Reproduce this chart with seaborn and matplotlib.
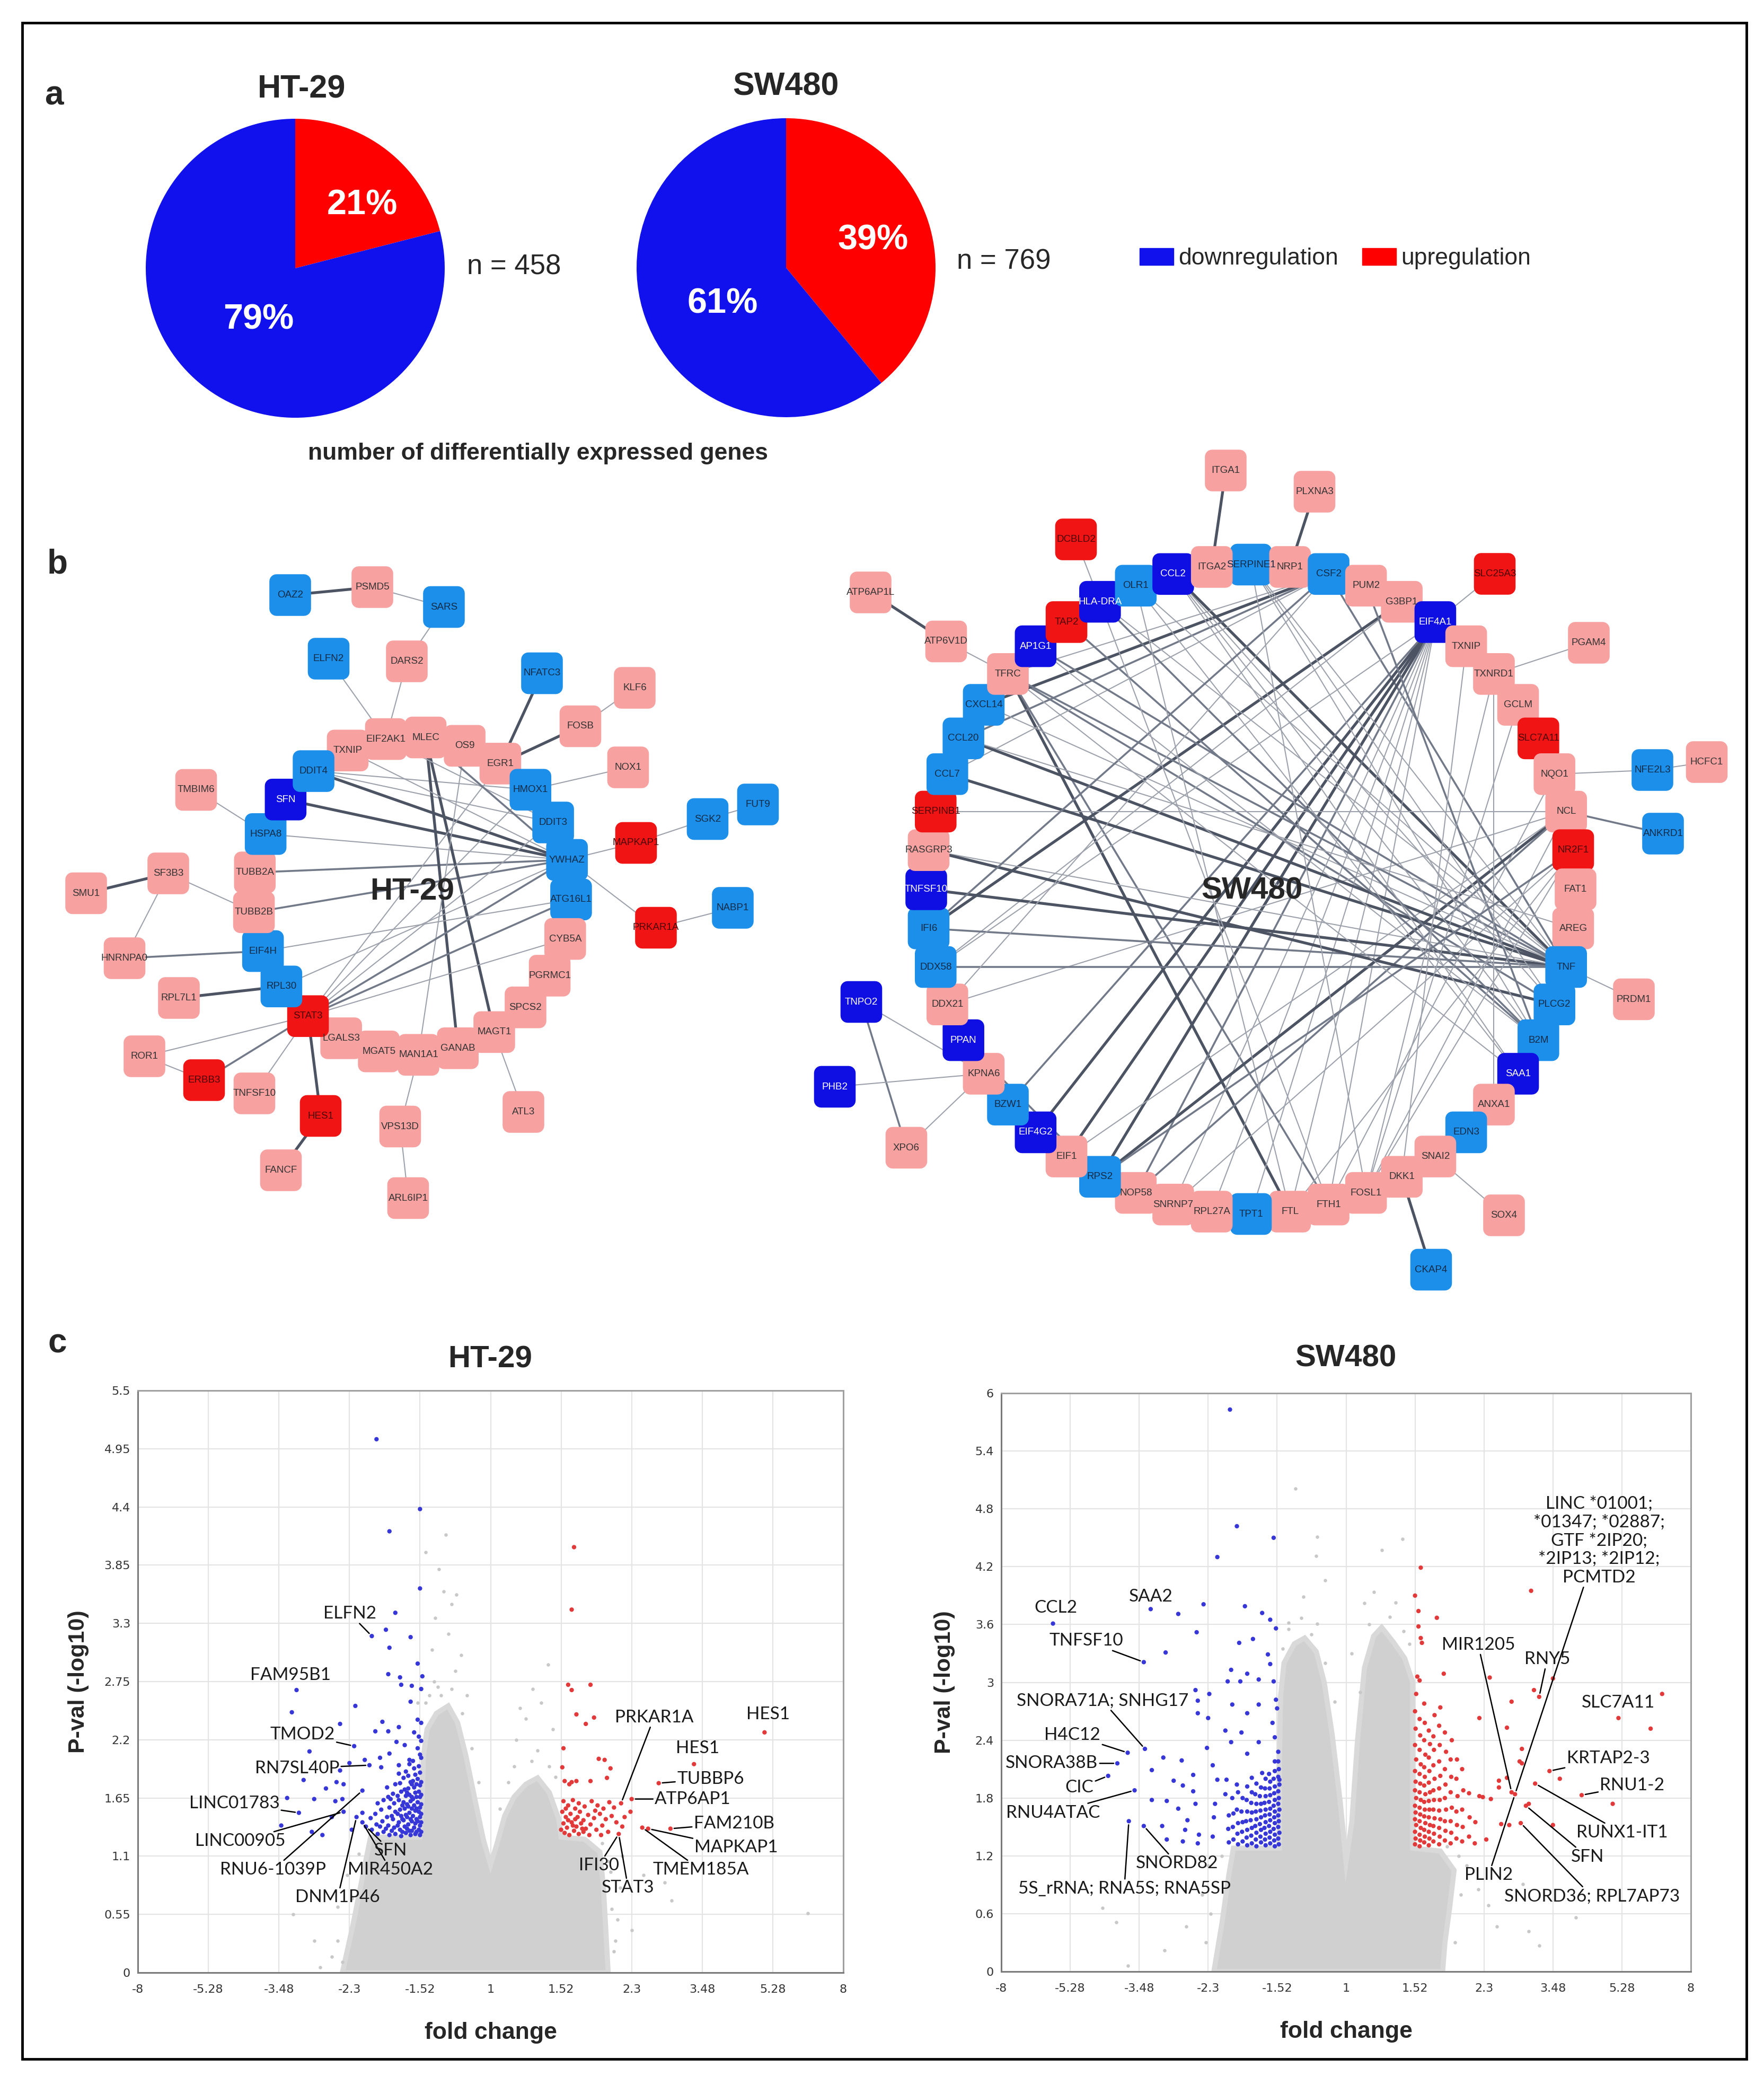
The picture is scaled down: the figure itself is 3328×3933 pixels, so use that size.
"""
Differential expression figure: (a) up/down pie charts, (b) interaction
networks, (c) volcano plots for HT-29 and SW480.
"""

import numpy as np
import pandas as pd
import seaborn as sns
import matplotlib.pyplot as plt
from matplotlib.path import Path
from matplotlib.patches import Rectangle, Patch

# ---------------------------------------------------------------- panel a
pie_cells = ["HT-29", "SW480"]
pie_up_pct = [21, 39]
pie_down_pct = [79, 61]
pie_n = [458, 769]

# ---------------------------------------------------------------- panel b
# HT-29 network: ring nodes in circular-layout order, outer nodes with layout coords
ht_ring = ["TXNIP", "EIF2AK1", "MLEC", "OS9", "EGR1", "HMOX1", "DDIT3", "YWHAZ",
           "ATG16L1", "CYB5A", "PGRMC1", "SPCS2", "MAGT1", "GANAB", "MAN1A1", "MGAT5",
           "LGALS3", "STAT3", "RPL30", "EIF4H", "TUBB2B", "TUBB2A", "HSPA8", "SFN", "DDIT4"]
ht_outer_names = ["OAZ2", "PSMD5", "SARS", "ELFN2", "DARS2", "NFATC3", "KLF6", "FOSB",
                  "NOX1", "TMBIM6", "SF3B3", "SMU1", "HNRNPA0", "RPL7L1", "ROR1", "ERBB3",
                  "TNFSF10", "HES1", "FANCF", "VPS13D", "ARL6IP1", "ATL3", "MAPKAP1",
                  "PRKAR1A", "SGK2", "FUT9", "NABP1"]
ht_outer_x = [219, 281, 335, 248, 307, 409, 479, 438, 474, 148, 127, 65, 94, 135, 109, 154,
              192, 242, 212, 302, 308, 395, 480, 495, 534, 572, 553]
ht_outer_y = [449, 443, 458, 497, 499, 508, 519, 548, 579, 596, 659, 674, 723, 753, 797, 815,
              825, 842, 883, 850, 904, 839, 636, 700, 618, 607, 685]
ht_up_strong = ["MAPKAP1", "PRKAR1A", "STAT3", "ERBB3", "HES1"]
ht_down_strong = ["SFN"]
ht_down = ["OAZ2", "SARS", "ELFN2", "NFATC3", "DDIT4", "HMOX1", "DDIT3", "HSPA8", "YWHAZ",
           "ATG16L1", "EIF4H", "RPL30", "SGK2", "FUT9", "NABP1"]
ht_edges = [
    ("OAZ2", "PSMD5", 3), ("PSMD5", "SARS", 1), ("SARS", "DARS2", 1), ("DARS2", "EIF2AK1", 1),
    ("ELFN2", "EIF2AK1", 1), ("NFATC3", "EGR1", 3), ("FOSB", "EGR1", 3), ("KLF6", "FOSB", 1),
    ("NOX1", "HMOX1", 1), ("TMBIM6", "HSPA8", 1), ("SF3B3", "SMU1", 3), ("SF3B3", "TUBB2B", 1),
    ("SF3B3", "HNRNPA0", 1), ("HNRNPA0", "EIF4H", 2), ("RPL7L1", "RPL30", 3), ("ROR1", "ERBB3", 1),
    ("ROR1", "STAT3", 1), ("ERBB3", "STAT3", 2), ("TNFSF10", "STAT3", 1), ("STAT3", "HES1", 3),
    ("HES1", "FANCF", 3), ("VPS13D", "MAN1A1", 1), ("VPS13D", "ARL6IP1", 1), ("ATL3", "MAGT1", 1),
    ("MAPKAP1", "SGK2", 1), ("SGK2", "FUT9", 1), ("MAPKAP1", "YWHAZ", 1), ("PRKAR1A", "NABP1", 1),
    ("PRKAR1A", "YWHAZ", 1), ("DDIT4", "YWHAZ", 3), ("SFN", "YWHAZ", 3), ("HSPA8", "YWHAZ", 1),
    ("TUBB2A", "YWHAZ", 2), ("TUBB2B", "YWHAZ", 2), ("DDIT4", "HMOX1", 1), ("DDIT4", "DDIT3", 1),
    ("TXNIP", "SFN", 1), ("MLEC", "GANAB", 3), ("MLEC", "MAGT1", 3), ("OS9", "MAN1A1", 1),
    ("EGR1", "STAT3", 1), ("STAT3", "YWHAZ", 2), ("STAT3", "HMOX1", 1), ("STAT3", "ATG16L1", 2),
    ("STAT3", "DDIT3", 1), ("STAT3", "CYB5A", 1), ("RPL30", "YWHAZ", 1), ("EIF4H", "ATG16L1", 1),
    ("MLEC", "HMOX1", 1), ("EIF2AK1", "DDIT3", 1), ("MLEC", "YWHAZ", 2), ("TXNIP", "YWHAZ", 1),
]

# SW480 network
sw_ring = ["SERPINE1", "NRP1", "CSF2", "PUM2", "G3BP1", "EIF4A1", "TXNIP", "TXNRD1", "GCLM",
           "SLC7A11", "NQO1", "NCL", "NR2F1", "FAT1", "AREG", "TNF", "PLCG2", "B2M", "SAA1",
           "ANXA1", "EDN3", "SNAI2", "DKK1", "FOSL1", "FTH1", "FTL", "TPT1", "RPL27A", "SNRNP7",
           "NOP58", "RPS2", "EIF1", "EIF4G2", "BZW1", "KPNA6", "PPAN", "DDX21", "DDX58", "IFI6",
           "TNFSF10", "RASGRP3", "SERPINB1", "CCL7", "CCL20", "CXCL14", "TFRC", "AP1G1", "TAP2",
           "HLA-DRA", "OLR1", "CCL2", "ITGA2"]
sw_outer_names = ["ITGA1", "PLXNA3", "DCBLD2", "SLC25A3", "ATP6AP1L", "ATP6V1D", "PGAM4",
                  "HCFC1", "NFE2L3", "ANKRD1", "PRDM1", "TNPO2", "PHB2", "XPO6", "SOX4", "CKAP4"]
sw_outer_x = [925, 992, 812, 1128, 657, 714, 1199, 1288, 1247, 1255, 1233, 650, 630, 684, 1135, 1080]
sw_outer_y = [355, 371, 407, 433, 447, 484, 485, 575, 581, 629, 754, 756, 820, 866, 917, 958]
sw_up_strong = ["DCBLD2", "SLC25A3", "TAP2", "SLC7A11", "SERPINB1", "NR2F1"]
sw_down_strong = ["CCL2", "HLA-DRA", "AP1G1", "EIF4A1", "TNFSF10", "PPAN", "EIF4G2", "SAA1",
                  "TNPO2", "PHB2"]
sw_down = ["OLR1", "SERPINE1", "CSF2", "CXCL14", "CCL20", "CCL7", "IFI6", "DDX58", "BZW1",
           "RPS2", "TPT1", "EDN3", "B2M", "PLCG2", "TNF", "NFE2L3", "ANKRD1", "CKAP4"]
sw_edges = [
    ("ITGA1", "ITGA2", 3), ("PLXNA3", "NRP1", 3), ("DCBLD2", "HLA-DRA", 1), ("SLC25A3", "EIF4A1", 1),
    ("ATP6AP1L", "ATP6V1D", 3), ("ATP6V1D", "TFRC", 1), ("PGAM4", "TXNRD1", 1), ("HCFC1", "NFE2L3", 1),
    ("NFE2L3", "NQO1", 1), ("ANKRD1", "NCL", 2), ("PRDM1", "TNF", 1), ("TNPO2", "KPNA6", 1),
    ("TNPO2", "XPO6", 2), ("PHB2", "KPNA6", 1), ("XPO6", "KPNA6", 1), ("SOX4", "SNAI2", 1),
    ("CKAP4", "DKK1", 3), ("CCL2", "TNF", 3), ("TFRC", "FTL", 3), ("TFRC", "FTH1", 2),
    ("TFRC", "PLCG2", 2), ("CSF2", "CXCL14", 3), ("CSF2", "CCL20", 2), ("CSF2", "TFRC", 1),
    ("CSF2", "CCL7", 1), ("CSF2", "TNF", 2), ("G3BP1", "IFI6", 3), ("G3BP1", "DDX58", 1),
    ("EIF4A1", "EIF1", 3), ("EIF4A1", "EIF4G2", 3), ("EIF4A1", "RPS2", 3), ("EIF4A1", "NOP58", 2),
    ("EIF4A1", "BZW1", 2), ("EIF4A1", "RPL27A", 1), ("EIF4A1", "TPT1", 1), ("EIF4A1", "FTL", 1),
    ("EIF4A1", "FTH1", 1), ("EIF4A1", "SNRNP7", 1), ("NCL", "RPS2", 3), ("NCL", "NOP58", 2),
    ("NR2F1", "SNRNP7", 1), ("NCL", "EIF1", 1), ("NCL", "DDX21", 1), ("SERPINB1", "NCL", 1),
    ("TNF", "CCL20", 3), ("TNF", "CCL7", 3), ("TNF", "TNFSF10", 3), ("TNF", "RASGRP3", 1),
    ("TNF", "DDX58", 2), ("TNF", "IFI6", 2), ("TNF", "CXCL14", 1), ("TNF", "TFRC", 2),
    ("TNF", "HLA-DRA", 1), ("TNF", "SERPINE1", 1), ("TNF", "OLR1", 1), ("TNF", "AP1G1", 2),
    ("RASGRP3", "PLCG2", 3), ("B2M", "TAP2", 2), ("B2M", "HLA-DRA", 2), ("B2M", "CCL2", 1),
    ("PUM2", "B2M", 2), ("SERPINE1", "PLCG2", 1), ("SERPINE1", "B2M", 1), ("FOSL1", "NCL", 1),
    ("FOSL1", "TXNRD1", 1), ("FOSL1", "GCLM", 1), ("FTH1", "NQO1", 1), ("FOSL1", "NR2F1", 1),
    ("DKK1", "TXNIP", 1), ("ANXA1", "TXNRD1", 1), ("PPAN", "RPS2", 2), ("KPNA6", "EIF4G2", 1),
    ("SAA1", "CCL2", 1), ("SAA1", "OLR1", 1), ("CCL20", "AREG", 1), ("DDX21", "CSF2", 1),
    ("IFI6", "CSF2", 2), ("TFRC", "SAA1", 1), ("OLR1", "FTL", 1), ("HLA-DRA", "FTH1", 1),
    ("TXNIP", "TXNRD1", 2), ("NR2F1", "FTL", 1), ("NR2F1", "RPS2", 2), ("SERPINE1", "FOSL1", 1),
    ("CCL2", "PLCG2", 1), ("AP1G1", "B2M", 1), ("DDX58", "EIF4A1", 1),
]

# ---------------------------------------------------------------- panel c
# x = log2 fold change (axis labelled in fold change), y = -log10 p
fc_ticks = [-3.0, -2.4, -1.8, -1.2, -0.6, 0.0, 0.6, 1.2, 1.8, 2.4, 3.0]
fc_tick_labels = ["-8", "-5.28", "-3.48", "-2.3", "-1.52", "1", "1.52", "2.3", "3.48", "5.28", "8"]
ht_p_ticks = [0, 0.55, 1.1, 1.65, 2.2, 2.75, 3.3, 3.85, 4.4, 4.95, 5.5]
ht_p_tick_labels = ["0", "0.55", "1.1", "1.65", "2.2", "2.75", "3.3", "3.85", "4.4", "4.95", "5.5"]
sw_p_ticks = [0, 0.6, 1.2, 1.8, 2.4, 3.0, 3.6, 4.2, 4.8, 5.4, 6.0]
sw_p_tick_labels = ["0", "0.6", "1.2", "1.8", "2.4", "3", "3.6", "4.2", "4.8", "5.4", "6"]

ht_down_points = [
    (-0.97, 5.04), (-0.60, 4.38), (-0.86, 4.17), (-0.60, 3.63), (-0.81, 3.40), (-1.01, 3.18),
    (-0.68, 3.17), (-0.89, 3.24), (-0.86, 3.07), (-0.62, 2.92), (-0.87, 2.82), (-0.77, 2.79),
    (-0.58, 2.80), (-0.76, 2.72), (-0.67, 2.71), (-0.68, 2.56), (-0.59, 2.68), (-1.15, 2.52),
    (-1.28, 2.35), (-1.16, 2.14), (-0.92, 2.37), (-0.98, 2.28), (-0.87, 2.28), (-0.78, 2.32),
    (-0.62, 2.39), (-0.59, 2.36), (-0.65, 2.27), (-0.61, 2.23), (-0.59, 2.19), (-1.65, 2.67),
    (-1.69, 2.46), (-1.07, 2.01), (-1.20, 1.98), (-1.28, 1.91), (-0.94, 2.03), (-0.80, 2.18),
    (-0.73, 2.15), (-0.86, 2.07), (-1.54, 2.09), (-1.59, 1.82), (-1.31, 1.80), (-1.40, 1.74),
    (-1.25, 1.78), (-0.93, 1.94), (-0.78, 1.96), (-0.69, 2.01), (-0.59, 2.03), (-1.73, 1.65),
    (-1.78, 1.39), (-1.63, 1.51), (-1.50, 1.64), (-1.35, 1.47), (-1.52, 1.33), (-1.43, 1.30),
    (-1.26, 1.64), (-1.25, 1.52), (-1.09, 1.51), (-0.85, 1.64), (-1.09, 1.72), (-1.14, 1.47),
    (-1.09, 1.42), (-1.06, 1.38), (-1.03, 1.96), (-1.18, 1.35), (-1.32, 1.62),
    (-0.60, 1.30), (-0.61, 1.35), (-0.60, 1.39), (-0.62, 1.43), (-0.60, 1.47), (-0.61, 1.52),
    (-0.60, 1.56), (-0.62, 1.61), (-0.60, 1.66), (-0.61, 1.71), (-0.60, 1.77), (-0.62, 1.83),
    (-0.60, 1.89), (-0.61, 1.95), (-0.60, 2.06), (-0.62, 2.12), (-0.64, 1.31), (-0.65, 1.37),
    (-0.64, 1.41), (-0.66, 1.48), (-0.64, 1.53), (-0.65, 1.58), (-0.66, 1.64), (-0.64, 1.70),
    (-0.65, 1.75), (-0.66, 1.81), (-0.64, 1.87), (-0.65, 1.93), (-0.66, 2.00), (-0.68, 1.30),
    (-0.69, 1.34), (-0.70, 1.40), (-0.68, 1.45), (-0.69, 1.51), (-0.70, 1.57), (-0.68, 1.62),
    (-0.69, 1.68), (-0.70, 1.74), (-0.68, 1.80), (-0.70, 1.86), (-0.69, 1.97), (-0.72, 1.32),
    (-0.73, 1.38), (-0.74, 1.44), (-0.72, 1.49), (-0.73, 1.55), (-0.74, 1.61), (-0.72, 1.67),
    (-0.73, 1.73), (-0.74, 1.84), (-0.72, 1.90), (-0.76, 1.29), (-0.77, 1.35), (-0.78, 1.42),
    (-0.76, 1.48), (-0.77, 1.54), (-0.78, 1.63), (-0.76, 1.71), (-0.77, 1.79), (-0.78, 1.88),
    (-0.81, 1.31), (-0.82, 1.37), (-0.83, 1.45), (-0.81, 1.52), (-0.82, 1.60), (-0.83, 1.69),
    (-0.81, 1.78), (-0.86, 1.30), (-0.87, 1.39), (-0.88, 1.47), (-0.86, 1.56), (-0.87, 1.66),
    (-0.88, 1.75), (-0.91, 1.33), (-0.92, 1.43), (-0.93, 1.54), (-0.91, 1.63), (-0.96, 1.31),
    (-0.97, 1.40), (-0.98, 1.50), (-0.96, 1.60), (-1.01, 1.35), (-1.02, 1.46), (-0.59, 1.33),
    (-0.59, 1.42), (-0.59, 1.50), (-0.59, 1.59), (-0.59, 1.68), (-0.59, 1.80), (-0.63, 1.33),
    (-0.63, 1.45), (-0.63, 1.55), (-0.63, 1.66), (-0.63, 1.78), (-0.67, 1.34), (-0.67, 1.43),
    (-0.67, 1.55), (-0.67, 1.66), (-0.67, 1.78), (-0.71, 1.36), (-0.71, 1.47), (-0.71, 1.59),
    (-0.71, 1.70), (-0.75, 1.33), (-0.75, 1.45), (-0.75, 1.58), (-0.79, 1.39), (-0.79, 1.50),
    (-0.79, 1.67), (-0.84, 1.34), (-0.84, 1.48), (-0.89, 1.36), (-0.94, 1.38),
]
ht_up_points = [
    (0.71, 4.02), (0.69, 3.43), (0.66, 2.72), (0.69, 2.67), (0.85, 2.72), (0.73, 2.44),
    (0.88, 2.41), (0.81, 2.35), (2.33, 2.27), (1.73, 1.97), (1.43, 1.79), (1.20, 1.64),
    (1.11, 1.60), (1.53, 1.36), (1.34, 1.36), (1.29, 1.37), (1.09, 1.31), (1.19, 1.52),
    (1.14, 1.47), (0.62, 2.12), (0.61, 1.94), (0.92, 2.02), (0.97, 2.01), (1.02, 1.93),
    (0.99, 1.84), (0.85, 1.81), (0.63, 1.81), (0.69, 1.80), (0.73, 1.81), (0.67, 1.78),
    (0.62, 1.62), (0.66, 1.58), (0.70, 1.63), (0.75, 1.60), (0.80, 1.57), (0.86, 1.62),
    (0.91, 1.58), (0.96, 1.55), (1.01, 1.61), (1.05, 1.56), (0.61, 1.52), (0.64, 1.47),
    (0.68, 1.50), (0.72, 1.45), (0.76, 1.52), (0.79, 1.44), (0.83, 1.49), (0.88, 1.46),
    (0.93, 1.50), (0.98, 1.45), (1.03, 1.48), (0.62, 1.41), (0.65, 1.37), (0.69, 1.42),
    (0.73, 1.38), (0.77, 1.41), (0.81, 1.36), (0.85, 1.40), (0.90, 1.35), (0.95, 1.39),
    (1.00, 1.33), (0.63, 1.32), (0.67, 1.30), (0.71, 1.34), (0.75, 1.31), (0.79, 1.33),
    (0.84, 1.30), (0.60, 1.35), (0.66, 1.44), (0.70, 1.39), (0.74, 1.47), (0.78, 1.36),
    (0.72, 1.55), (0.64, 1.55), (0.89, 1.53), (1.07, 1.42), (1.12, 1.38), (0.94, 1.30),
]
ht_grey_outline = [
    (-1.26, 0.0), (-1.17, 0.45), (-1.09, 0.90), (-1.02, 1.28), (-0.60, 1.28), (-0.58, 1.70),
    (-0.57, 2.05), (-0.54, 2.30), (-0.46, 2.45), (-0.36, 2.52), (-0.28, 2.36), (-0.21, 2.05),
    (-0.13, 1.62), (-0.06, 1.25), (0.0, 1.02), (0.05, 1.20), (0.12, 1.48), (0.20, 1.66),
    (0.30, 1.78), (0.40, 1.84), (0.50, 1.70), (0.58, 1.45), (0.60, 1.28), (0.80, 1.26),
    (0.93, 1.14), (0.96, 0.80), (0.98, 0.40), (1.00, 0.0),
]
ht_grey_points = [
    (-0.38, 4.14), (-0.55, 3.97), (-0.44, 3.81), (-0.40, 3.60), (-0.29, 3.57), (-0.33, 3.48),
    (-0.47, 3.35), (-0.50, 3.05), (-0.36, 3.20), (-0.25, 3.00), (-0.30, 2.85), (-0.20, 2.62),
    (-0.45, 2.70), (0.49, 2.91), (0.36, 2.68), (0.43, 2.55), (0.30, 2.40), (0.22, 2.20),
    (0.53, 2.30), (0.40, 2.10), (0.25, 2.50), (1.54, 0.68), (1.48, 0.85), (1.30, 0.92),
    (1.02, 0.95), (1.12, 1.10), (2.70, 0.56), (-1.68, 0.55), (-1.50, 0.30), (-1.35, 0.15),
    (-1.30, 0.62), (-1.22, 0.92), (-1.45, 0.05), (1.20, 0.40), (1.05, 0.20), (-0.62, 2.55),
    (-0.52, 2.62), (-0.55, 2.55), (-0.48, 2.75), (-0.42, 2.62), (-0.33, 2.68), (-0.24, 2.45),
    (-0.16, 2.12), (-0.10, 1.80), (0.15, 1.80), (0.20, 1.95), (0.35, 2.00), (0.50, 1.95),
    (0.55, 1.85), (0.08, 1.55), (-1.30, 0.30), (-1.26, 0.10), (-1.18, 0.70), (-1.12, 1.12),
    (1.06, 0.30), (1.03, 0.60), (1.08, 0.50), (1.10, 0.80), (1.00, 1.05), (0.95, 1.22),
]

sw_down_points = [
    (-1.01, 5.83), (-0.95, 4.62), (-0.63, 4.50), (-1.12, 4.30), (-2.55, 3.61), (-1.70, 3.76),
    (-1.46, 3.71), (-1.24, 3.81), (-1.30, 3.52), (-1.76, 3.21), (-1.57, 3.31), (-0.88, 3.79),
    (-0.73, 3.72), (-0.66, 3.65), (-0.61, 3.56), (-0.81, 3.45), (-0.93, 3.41), (-0.68, 3.29),
    (-0.66, 3.19), (-1.00, 3.13), (-0.86, 3.09), (-1.03, 3.01), (-0.92, 3.01), (-0.63, 3.01),
    (-0.76, 3.03), (-1.31, 2.92), (-1.19, 2.88), (-1.29, 2.68), (-1.20, 2.63), (-1.29, 2.81),
    (-0.61, 2.82), (-0.76, 2.77), (-0.99, 2.77), (-0.86, 2.68), (-0.60, 2.73), (-0.64, 2.58),
    (-1.05, 2.50), (-0.91, 2.48), (-0.76, 2.38), (-1.00, 2.38), (-1.21, 2.32), (-0.62, 2.43),
    (-0.59, 2.28), (-1.16, 2.14), (-0.86, 2.26), (-0.62, 2.18), (-0.73, 2.06), (-0.82, 2.01),
    (-0.95, 1.94), (-1.04, 1.99), (-0.58, 1.99), (-1.75, 2.31), (-1.90, 2.27), (-1.99, 2.16),
    (-2.07, 2.03), (-1.84, 1.88), (-1.89, 1.56), (-1.76, 1.51), (-1.59, 2.22), (-1.69, 2.09),
    (-1.69, 1.78), (-1.60, 1.51), (-1.56, 1.37), (-1.43, 2.19), (-1.42, 1.93), (-1.46, 1.69),
    (-1.33, 2.04), (-1.33, 1.87), (-1.31, 1.74), (-1.38, 1.57), (-1.40, 1.47), (-1.28, 1.42),
    (-1.42, 1.35), (-1.29, 1.33), (-1.50, 1.98), (-1.56, 1.77), (-1.16, 1.40), (-1.15, 1.60),
    (-1.14, 1.74), (-1.05, 1.84), (-1.12, 1.99),
    (-0.585, 1.32), (-0.59, 1.38), (-0.58, 1.44), (-0.59, 1.50), (-0.585, 1.56), (-0.59, 1.62),
    (-0.58, 1.68), (-0.59, 1.74), (-0.585, 1.80), (-0.59, 1.87), (-0.58, 1.94), (-0.59, 2.02),
    (-0.585, 2.10), (-0.59, 2.18), (-0.62, 1.30), (-0.625, 1.36), (-0.62, 1.42), (-0.63, 1.48),
    (-0.62, 1.54), (-0.625, 1.60), (-0.62, 1.66), (-0.63, 1.72), (-0.62, 1.78), (-0.625, 1.85),
    (-0.62, 1.92), (-0.63, 2.00), (-0.62, 2.08), (-0.66, 1.33), (-0.665, 1.39), (-0.66, 1.45),
    (-0.67, 1.51), (-0.66, 1.57), (-0.665, 1.63), (-0.66, 1.69), (-0.67, 1.76), (-0.66, 1.83),
    (-0.665, 1.90), (-0.66, 1.97), (-0.67, 2.05), (-0.70, 1.31), (-0.705, 1.37), (-0.70, 1.43),
    (-0.71, 1.49), (-0.70, 1.55), (-0.705, 1.62), (-0.70, 1.68), (-0.71, 1.75), (-0.70, 1.82),
    (-0.705, 1.90), (-0.70, 2.00), (-0.74, 1.34), (-0.745, 1.40), (-0.74, 1.47), (-0.75, 1.53),
    (-0.74, 1.60), (-0.745, 1.67), (-0.74, 1.74), (-0.75, 1.82), (-0.74, 1.91), (-0.78, 1.30),
    (-0.785, 1.37), (-0.78, 1.44), (-0.79, 1.51), (-0.78, 1.58), (-0.785, 1.66), (-0.78, 1.74),
    (-0.79, 1.84), (-0.78, 1.95), (-0.82, 1.33), (-0.825, 1.41), (-0.82, 1.49), (-0.83, 1.57),
    (-0.82, 1.65), (-0.825, 1.75), (-0.82, 1.86), (-0.86, 1.31), (-0.865, 1.39), (-0.86, 1.47),
    (-0.87, 1.56), (-0.86, 1.66), (-0.865, 1.78), (-0.86, 1.92), (-0.90, 1.35), (-0.905, 1.45),
    (-0.90, 1.55), (-0.91, 1.66), (-0.90, 1.80), (-0.94, 1.32), (-0.945, 1.43), (-0.94, 1.54),
    (-0.95, 1.68), (-0.94, 1.86), (-0.98, 1.37), (-0.985, 1.50), (-0.98, 1.64), (-0.99, 1.80),
    (-1.02, 1.34), (-1.025, 1.48), (-1.02, 1.62),
]
sw_up_points = [
    (0.65, 4.19), (0.60, 3.90), (1.61, 3.95), (0.63, 3.74), (0.79, 3.67), (0.63, 3.58),
    (0.65, 3.46), (0.66, 3.41), (0.85, 3.09), (0.62, 3.06), (0.64, 3.02), (1.25, 3.05),
    (1.635, 2.92), (1.68, 2.85), (1.80, 3.04), (1.44, 2.80), (2.75, 2.88), (2.65, 2.52),
    (2.37, 2.63), (1.40, 2.53), (1.16, 2.63), (1.53, 2.31), (1.51, 2.18), (1.40, 2.01),
    (1.33, 1.91), (1.26, 1.79), (1.16, 1.82), (1.77, 2.08), (1.86, 2.00), (2.05, 1.83),
    (2.32, 1.74), (1.645, 1.95), (1.47, 1.84), (1.44, 1.86), (1.565, 1.72), (1.59, 1.74),
    (1.52, 1.54), (1.42, 1.52), (1.35, 1.53), (1.80, 1.52), (1.22, 1.37), (1.33, 1.98),
    (1.19, 1.81), (1.53, 2.16),
    (0.60, 1.32), (0.605, 1.38), (0.60, 1.45), (0.61, 1.52), (0.60, 1.58), (0.605, 1.65),
    (0.60, 1.72), (0.61, 1.80), (0.60, 1.88), (0.605, 1.97), (0.60, 2.08), (0.61, 2.20),
    (0.60, 2.35), (0.605, 2.52), (0.60, 2.70), (0.61, 2.88), (0.64, 1.30), (0.645, 1.36),
    (0.64, 1.42), (0.65, 1.49), (0.64, 1.56), (0.645, 1.63), (0.64, 1.70), (0.65, 1.78),
    (0.64, 1.86), (0.645, 1.95), (0.64, 2.05), (0.65, 2.15), (0.64, 2.30), (0.645, 2.45),
    (0.64, 2.62), (0.68, 1.34), (0.685, 1.40), (0.68, 1.47), (0.69, 1.54), (0.68, 1.61),
    (0.685, 1.68), (0.68, 1.76), (0.69, 1.84), (0.68, 1.93), (0.685, 2.02), (0.68, 2.12),
    (0.69, 2.25), (0.68, 2.40), (0.685, 2.58), (0.68, 2.78), (0.72, 1.31), (0.725, 1.38),
    (0.72, 1.45), (0.73, 1.52), (0.72, 1.60), (0.725, 1.68), (0.72, 1.77), (0.73, 1.86),
    (0.72, 1.96), (0.725, 2.08), (0.72, 2.22), (0.73, 2.36), (0.72, 2.50), (0.76, 1.35),
    (0.765, 1.43), (0.76, 1.51), (0.77, 1.59), (0.76, 1.68), (0.765, 1.78), (0.76, 1.88),
    (0.77, 2.00), (0.76, 2.14), (0.765, 2.30), (0.76, 2.44), (0.77, 2.66), (0.81, 1.32),
    (0.815, 1.40), (0.81, 1.49), (0.82, 1.58), (0.81, 1.67), (0.815, 1.78), (0.81, 1.90),
    (0.82, 2.03), (0.81, 2.18), (0.815, 2.35), (0.81, 2.55), (0.82, 2.74), (0.86, 1.36),
    (0.865, 1.46), (0.86, 1.56), (0.87, 1.68), (0.86, 1.80), (0.865, 1.94), (0.86, 2.10),
    (0.87, 2.28), (0.86, 2.48), (0.91, 1.33), (0.915, 1.44), (0.91, 1.56), (0.92, 1.70),
    (0.91, 1.86), (0.915, 2.02), (0.91, 2.20), (0.92, 2.40), (0.96, 1.38), (0.965, 1.52),
    (0.96, 1.66), (0.97, 1.82), (0.96, 2.00), (0.965, 2.20), (1.01, 1.35), (1.015, 1.50),
    (1.01, 1.68), (1.02, 1.88), (1.01, 2.10), (1.07, 1.40), (1.075, 1.60), (1.07, 1.85),
    (1.12, 1.33), (1.125, 1.55),
]
sw_grey_outline = [
    (-1.15, 0.0), (-1.08, 0.50), (-1.02, 1.00), (-0.98, 1.28), (-0.58, 1.28), (-0.58, 2.10),
    (-0.57, 2.85), (-0.54, 3.20), (-0.45, 3.40), (-0.36, 3.46), (-0.26, 3.32), (-0.19, 3.00),
    (-0.12, 2.45), (-0.05, 1.75), (0.0, 1.14), (0.05, 1.55), (0.10, 2.40), (0.16, 3.15),
    (0.24, 3.48), (0.31, 3.57), (0.41, 3.42), (0.51, 3.25), (0.58, 3.00), (0.58, 1.28),
    (0.82, 1.25), (0.94, 1.05), (0.90, 0.65), (0.86, 0.30), (0.84, 0.0),
]
sw_grey_points = [
    (-0.44, 5.01), (-0.25, 4.51), (-0.26, 4.31), (-0.18, 4.06), (-0.37, 3.89), (0.31, 4.37),
    (0.49, 4.49), (0.24, 3.94), (0.16, 3.82), (0.43, 3.83), (-0.39, 3.67), (-0.25, 3.61),
    (0.50, 3.53), (-0.50, 3.55), (0.05, 3.30), (-2.12, 0.66), (-2.00, 0.51), (-1.90, 0.06),
    (-1.58, 0.22), (-1.39, 0.47), (1.68, 0.27), (1.59, 0.42), (2.00, 0.56), (1.31, 0.47),
    (1.24, 0.69), (1.54, 0.91), (-1.25, 0.80), (-1.20, 1.10), (1.05, 1.10), (1.15, 0.85),
    (-0.55, 3.35), (-0.50, 3.62), (-0.30, 3.50), (-0.18, 3.20), (-0.10, 2.80), (0.12, 2.90),
    (0.20, 3.60), (0.38, 3.68), (0.55, 3.40), (-1.22, 0.30), (-1.18, 0.60), (-1.08, 1.20),
    (0.95, 0.30), (1.00, 0.80), (0.98, 1.20), (0.88, 1.30),
]

# labelled genes: (label, gene x, gene y, text x, text y, draw leader line)
ht_notes = [
    ("ELFN2", -1.01, 3.18, -1.195, 3.39, True), ("FAM95B1", -1.65, 2.67, -1.70, 2.81, False),
    ("TMOD2", -1.16, 2.14, -1.60, 2.25, True), ("RN7SL40P", -1.03, 1.96, -1.645, 1.93, True),
    ("LINC01783", -1.63, 1.51, -2.18, 1.60, True), ("LINC00905", -1.25, 1.52, -2.13, 1.24, True),
    ("RNU6-1039P", -1.09, 1.72, -1.85, 0.97, True), ("MIR450A2", -1.09, 1.42, -0.85, 0.97, True),
    ("SFN", -1.06, 1.38, -0.85, 1.15, True), ("DNM1P46", -1.14, 1.47, -1.30, 0.71, True),
    ("PRKAR1A", 1.11, 1.60, 1.39, 2.41, True), ("HES1", 2.33, 2.27, 2.36, 2.44, False),
    ("HES1", 1.73, 1.97, 1.76, 2.12, False), ("TUBBP6", 1.43, 1.79, 1.87, 1.83, True),
    ("ATP6AP1", 1.20, 1.64, 1.72, 1.64, True), ("FAM210B", 1.53, 1.36, 2.07, 1.41, True),
    ("MAPKAP1", 1.34, 1.36, 2.09, 1.18, True), ("TMEM185A", 1.29, 1.37, 1.79, 0.97, True),
    ("IFI30", 1.09, 1.31, 0.92, 1.01, True), ("STAT3", 1.09, 1.31, 1.17, 0.80, True),
]
sw_notes = [
    ("CCL2", -2.55, 3.61, -2.525, 3.77, False), ("SAA2", -1.70, 3.76, -1.70, 3.89, False),
    ("TNFSF10", -1.76, 3.21, -2.26, 3.43, True), ("SNORA71A; SNHG17", -1.75, 2.31, -2.12, 2.81, True),
    ("H4C12", -1.90, 2.27, -2.38, 2.455, True), ("SNORA38B", -1.99, 2.16, -2.56, 2.16, True),
    ("CIC", -2.07, 2.03, -2.32, 1.91, True), ("RNU4ATAC", -1.84, 1.88, -2.55, 1.645, True),
    ("5S_rRNA; RNA5S; RNA5SP", -1.89, 1.56, -1.93, 0.86, True), ("SNORD82", -1.76, 1.51, -1.47, 1.12, True),
    ("LINC *01001;\n*01347; *02887;\nGTF *2IP20;\n*2IP13; *2IP12;\nPCMTD2", 1.47, 1.84, 2.20, 4.47, True),
    ("MIR1205", 1.44, 1.86, 1.15, 3.39, True), ("RNY5", 1.68, 2.85, 1.75, 3.24, True),
    ("SLC7A11", 2.75, 2.88, 2.37, 2.79, False), ("KRTAP2-3", 1.77, 2.08, 2.28, 2.21, True),
    ("RNU1-2", 2.05, 1.83, 2.49, 1.93, True), ("RUNX1-IT1", 1.645, 1.95, 2.40, 1.44, True),
    ("SFN", 1.565, 1.72, 2.10, 1.19, True), ("PLIN2", 1.47, 1.84, 1.24, 1.00, True),
    ("SNORD36; RPL7AP73", 1.52, 1.54, 2.14, 0.78, True),
]

# ---------------------------------------------------------------- drawing
W, H = 3328, 3933
RED, BLUE = "#ff0000", "#1111ee"
node_colors = {"up": "#f7a1a1", "up_strong": "#f01414", "down": "#1c8fea", "down_strong": "#0f0fe4"}
node_text = {"up": "#333333", "up_strong": "#4a0606", "down": "#132a45", "down_strong": "white"}
edge_color = {1: "#9ca1ab", 2: "#727988", 3: "#4c5362"}
edge_width = {1: 1.5, 2: 2.6, 3: 3.8}
GREY = "#d0d0d0"

sns.set_style("white")
plt.rcParams["font.family"] = ["Liberation Sans", "DejaVu Sans"]


def fx(px):
    return px / W


def fy(py):
    return 1 - py / H


def rounded_square(r=0.17, n=7):
    verts = []
    for cx, cy, a0 in [(0.5 - r, 0.5 - r, 0), (-0.5 + r, 0.5 - r, 90),
                       (-0.5 + r, -0.5 + r, 180), (0.5 - r, -0.5 + r, 270)]:
        for t in np.radians(np.linspace(a0, a0 + 90, n)):
            verts.append((cx + r * np.cos(t), cy + r * np.sin(t)))
    verts.append(verts[0])
    codes = [Path.MOVETO] + [Path.LINETO] * (len(verts) - 2) + [Path.CLOSEPOLY]
    return Path(verts, codes)


def ring_layout(names, cx, cy, r, start_deg):
    step = 360 / len(names)
    ang = np.radians(start_deg + step * np.arange(len(names)))
    return {n: (cx + r * np.sin(a), cy - r * np.cos(a)) for n, a in zip(names, ang)}


def draw_network(ax, ring, ring_geom, outer_names, outer_x, outer_y, up_s, down_s, down, edges, title, title_xy):
    pos = ring_layout(ring, *ring_geom)
    pos.update({n: (x, y) for n, x, y in zip(outer_names, outer_x, outer_y)})
    for a, b, w in edges:
        (x1, y1), (x2, y2) = pos[a], pos[b]
        ax.plot([x1, x2], [y1, y2], color=edge_color[w], lw=edge_width[w], zorder=1,
                solid_capstyle="butt")
    names = ring + outer_names

    def kind(n):
        if n in up_s:
            return "up_strong"
        if n in down_s:
            return "down_strong"
        if n in down:
            return "down"
        return "up"

    nodes = pd.DataFrame({"gene": names, "x": [pos[n][0] for n in names],
                          "y": [pos[n][1] for n in names], "kind": [kind(n) for n in names]})
    sns.scatterplot(data=nodes, x="x", y="y", hue="kind", palette=node_colors,
                    marker=rounded_square(), s=3200, linewidth=0, legend=False, ax=ax, zorder=2)
    for _, row in nodes.iterrows():
        ax.text(row.x, row.y, row.gene, fontsize=13.5, ha="center", va="center",
                color=node_text[row.kind], zorder=3)
    ax.text(*title_xy, title, fontsize=42, fontweight="bold", ha="center", va="center", zorder=4)


def draw_volcano(rect, down_pts, up_pts, outline, grey_pts, yticks, ylabels, ymax, notes, ylab_x):
    ax = fig.add_axes(rect)
    ox, oy = zip(*outline)
    # dense non-significant cloud, soft rim to mimic the scattered edge
    ax.fill(ox, oy, facecolor=GREY, edgecolor="#d9d9d9", lw=7, zorder=1)
    gx, gy = zip(*grey_pts)
    sns.scatterplot(x=list(gx), y=list(gy), color="#c8c8c8", s=22, linewidth=0, ax=ax, zorder=1)
    pts = pd.DataFrame(down_pts + up_pts, columns=["fc", "p"])
    pts["reg"] = ["down"] * len(down_pts) + ["up"] * len(up_pts)
    sns.scatterplot(data=pts, x="fc", y="p", hue="reg", palette={"down": "#3737d8", "up": "#e23a3a"},
                    s=36, linewidth=0, legend=False, ax=ax, zorder=3)
    ax.set_xlim(-3, 3)
    ax.set_ylim(0, ymax)
    ax.set_xticks(fc_ticks)
    ax.set_xticklabels(fc_tick_labels, family="DejaVu Sans", fontsize=16, color="#333333")
    ax.set_yticks(yticks)
    ax.set_yticklabels(ylabels, family="DejaVu Sans", fontsize=16, color="#333333")
    ax.tick_params(axis="x", length=0, pad=16)
    ax.tick_params(axis="y", length=0, pad=10)
    ax.grid(True, color="#e4e4e4", lw=1.6)
    ax.set_axisbelow(True)
    for side, sp in ax.spines.items():
        sp.set_color("#7a7a7a" if side in ("left", "bottom") else "#a0a0a0")
        sp.set_linewidth(2.2)
        sp.set_zorder(6)
    ax.set_xlabel("fold change", fontsize=32, fontweight="bold")
    ax.set_ylabel("P-val (-log10)", fontsize=31, fontweight="bold")
    ax.xaxis.set_label_coords(0.5, -0.085)
    ax.yaxis.set_label_coords(ylab_x, 0.5)
    for label, px, py, tx, ty, line in notes:
        if line:
            ax.annotate(label, xy=(px, py), xytext=(tx, ty), ha="center", va="center",
                        fontsize=24, family=["Lato", "DejaVu Sans"], color="#1a1a1a", zorder=5,
                        arrowprops=dict(arrowstyle="-", color="black", lw=1.8, shrinkA=0, shrinkB=5))
        else:
            ax.text(tx, ty, label, ha="center", va="center", fontsize=24,
                    family=["Lato", "DejaVu Sans"], color="#1a1a1a", zorder=5)
    return ax


fig = plt.figure(figsize=(W / 100, H / 100), dpi=100)

# frame
fig.add_artist(Rectangle((fx(42), fy(3884)), (3295 - 42) / W, (3884 - 43) / H,
                         transform=fig.transFigure, fill=False, lw=3.5, ec="black"))

# panel letters
for letter, (px, py) in zip("abc", [(102, 181), (108, 1065), (108, 2535)]):
    fig.text(fx(px), fy(py), letter, fontsize=46, fontweight="bold", ha="center", va="center")

# ---- panel a
pie_centers = [(557, 506), (1483, 505)]
pie_r = 282
pct_pos = [[(0.45, 0.42), (-0.245, -0.344)], [(0.583, 0.184), (-0.424, -0.244)]]
title_pos = [(569, 169), (1482, 164)]
n_pos = [(881, 504), (1805, 494)]
for i, (cx, cy) in enumerate(pie_centers):
    ax = fig.add_axes([fx(cx - pie_r), fy(cy + pie_r), 2 * pie_r / W, 2 * pie_r / H])
    ax.pie([pie_up_pct[i], pie_down_pct[i]], colors=[RED, BLUE], startangle=90,
           counterclock=False, wedgeprops=dict(linewidth=0))
    ax.set_xlim(-1, 1)
    ax.set_ylim(-1, 1)
    for (tx, ty), val in zip(pct_pos[i], [pie_up_pct[i], pie_down_pct[i]]):
        ax.text(tx, ty, f"{val}%", color="white", fontsize=48, fontweight="bold",
                ha="center", va="center")
    fig.text(fx(title_pos[i][0]), fy(title_pos[i][1]), pie_cells[i], fontsize=44,
             fontweight="bold", ha="center", va="center")
    fig.text(fx(n_pos[i][0]), fy(n_pos[i][1]), f"n = {pie_n[i]}", fontsize=38,
             ha="left", va="center")

fig.legend(handles=[Patch(color=BLUE), Patch(color=RED)], labels=["downregulation", "upregulation"],
           ncol=2, loc="center left", bbox_to_anchor=(fx(2150), fy(488)), frameon=False,
           fontsize=32, handlelength=1.45, handleheight=0.7, handletextpad=0.2,
           columnspacing=1.0, borderpad=0, borderaxespad=0)
fig.text(fx(1015), fy(855), "number of differentially expressed genes", fontsize=32,
         fontweight="bold", ha="center", va="center")

# ---- panel b (layout units = 2.5 image px)
axn = fig.add_axes([0, fy(2480), 1, (2480 - 820) / H])
axn.set_xlim(0, W / 2.5)
axn.set_ylim(2480 / 2.5, 820 / 2.5)
axn.axis("off")
draw_network(axn, ht_ring, (311, 676, 120, -23.9), ht_outer_names, ht_outer_x, ht_outer_y,
             ht_up_strong, ht_down_strong, ht_down, ht_edges, "HT-29", (311, 673))
draw_network(axn, sw_ring, (944, 671, 245, 0.0), sw_outer_names, sw_outer_x, sw_outer_y,
             sw_up_strong, sw_down_strong, sw_down, sw_edges, "SW480", (945, 672))

# ---- panel c
draw_volcano([fx(260), fy(3721), (1591 - 260) / W, (3721 - 2623) / H], ht_down_points,
             ht_up_points, ht_grey_outline, ht_grey_points, ht_p_ticks, ht_p_tick_labels, 5.5,
             ht_notes, -0.069)
draw_volcano([fx(1889), fy(3719), (3190 - 1889) / W, (3719 - 2628) / H], sw_down_points,
             sw_up_points, sw_grey_outline, sw_grey_points, sw_p_ticks, sw_p_tick_labels, 6.0,
             sw_notes, -0.067)
fig.text(fx(925), fy(2564), "HT-29", fontsize=42, fontweight="bold", ha="center", va="center")
fig.text(fx(2539), fy(2562), "SW480", fontsize=42, fontweight="bold", ha="center", va="center")

fig.savefig("out.png", dpi=100)
